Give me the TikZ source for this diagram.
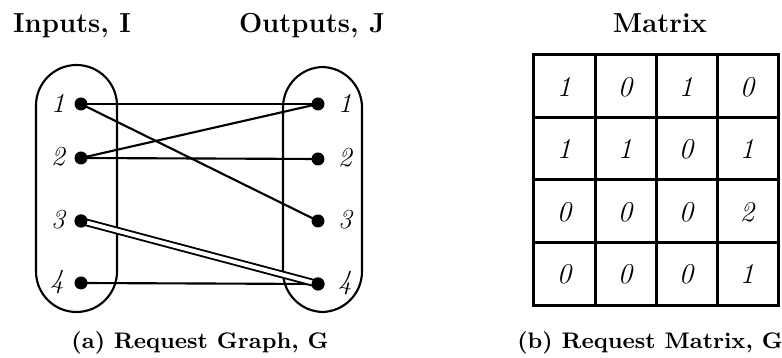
\documentclass[tikz,border=0pt]{standalone}
\begin{document}
\begin{tikzpicture}[x=0.4pt,y=-0.4pt,
  dot/.style={circle,fill=black,inner sep=0pt,minimum size=5.2pt},
  lab/.style={font=\fontsize{11}{13}\selectfont\itshape},
  head/.style={font=\fontsize{11}{13}\selectfont\bfseries,anchor=base},
  capt/.style={font=\fontsize{9}{11}\selectfont\bfseries,anchor=base},
  cell/.style={font=\fontsize{11.5}{13}\selectfont\itshape},
  edge/.style={line width=0.85pt},
  capsule/.style={line width=0.85pt,rounded corners=16.2pt},
  gridline/.style={line width=1.2pt}]
\useasboundingbox (0,0) rectangle (782,358);
% headers
\node[head] (hin) at (72,33) {Inputs, I};
\node[head] (hout) at (312,33) {Outputs, J};
\node[head] (hmat) at (660,33) {Matrix};
% capsules
\draw[capsule] (36,65) rectangle (117,312);
\draw[capsule] (283,67) rectangle (362,312);
% dots
\node[dot] (L1) at (81,104) {};
\node[dot] (L2) at (81,158) {};
\node[dot] (L3) at (81,221) {};
\node[dot] (L4) at (81,283) {};
\node[dot] (R1) at (318,104) {};
\node[dot] (R2) at (318,159) {};
\node[dot] (R3) at (318,221) {};
\node[dot] (R4) at (318,284) {};
% labels
\node[lab] (l1) at (58,103) {1};
\node[lab] (l2) at (58,157) {2};
\node[lab] (l3) at (58,220) {3};
\node[lab] (l4) at (57,282) {4};
\node[lab] (r1) at (345,103) {1};
\node[lab] (r2) at (345,158) {2};
\node[lab] (r3) at (345,220) {3};
\node[lab] (r4) at (345,283) {4};
% edges
\draw[edge] (L1.center) -- (R1.center);
\draw[edge] (L1.center) -- (R3.center);
\draw[edge] (L2.center) -- (R1.center);
\draw[edge] (L2.center) -- (R2.center);
\draw[edge] (L4.center) -- (R4.center);
\draw[line width=0.75pt,double=white,double distance=1.6pt] (L3.center) -- (R4.center);
\node[dot] at (L3.center) {};
\node[dot] at (R4.center) {};
% matrix grid
\draw[gridline] (533,55) rectangle (778,306);
\foreach \x in {595,656,717} \draw[gridline] (\x,55) -- (\x,306);
\foreach \y in {118,180,243} \draw[gridline] (533,\y) -- (778,\y);
% matrix entries
\node[cell] (m11) at (564,87) {1};
\node[cell] (m12) at (625,87) {0};
\node[cell] (m13) at (686,87) {1};
\node[cell] (m14) at (747,87) {0};
\node[cell] (m21) at (564,149) {1};
\node[cell] (m22) at (625,149) {1};
\node[cell] (m23) at (686,149) {0};
\node[cell] (m24) at (747,149) {1};
\node[cell] (m31) at (564,212) {0};
\node[cell] (m32) at (625,212) {0};
\node[cell] (m33) at (686,212) {0};
\node[cell] (m34) at (747,212) {2};
\node[cell] (m41) at (564,274) {0};
\node[cell] (m42) at (625,274) {0};
\node[cell] (m43) at (686,274) {0};
\node[cell] (m44) at (747,274) {1};
% captions
\node[capt] (ca) at (200,349) {(a) Request Graph, G};
\node[capt] (cb) at (650,349) {(b) Request Matrix, G};
\end{tikzpicture}
\end{document}
